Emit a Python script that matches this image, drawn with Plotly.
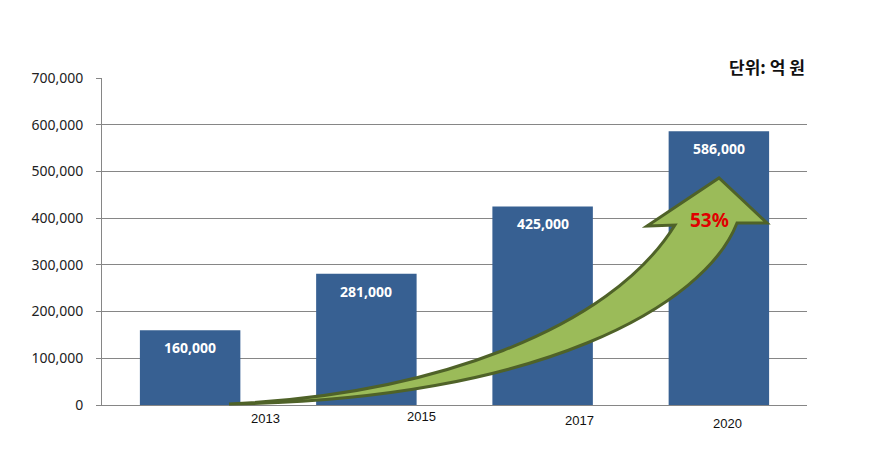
import plotly.graph_objects as go

# ---- data ----
years = ["2013", "2015", "2017", "2020"]
values = [160000, 281000, 425000, 586000]
value_labels = ["160,000", "281,000", "425,000", "586,000"]
y_ticks = [0, 100000, 200000, 300000, 400000, 500000, 600000, 700000]
y_tick_labels = ["0", "100,000", "200,000", "300,000", "400,000", "500,000", "600,000", "700,000"]
unit_label = "단위: 억 원"
growth_label = "53%"

# ---- layout constants (pixels, in the screenshot frame) ----
W, H = 888, 472
OFF = 8  # page body margin of the html page
PL, PR, PT, PB = 102, 807, 78, 405  # plot area edges
year_offsets = [0.43, 0.31, 0.21, 0.05]
year_drops = [13, 11, 15, 18]

def px(x):
    return (x - PL) / (PR - PL)

def py(y):
    return (PB - y) / (PB - PT)

xs = list(range(len(years)))

fig = go.Figure()
fig.add_trace(go.Bar(
    x=xs, y=values, marker=dict(color="#376092", line=dict(width=0)),
    width=0.57, hoverinfo="skip", showlegend=False,
))

annotations = []
for i, (v, t) in enumerate(zip(values, value_labels)):
    annotations.append(dict(
        x=i, y=v, xref="x", yref="y", text=t, showarrow=False,
        yanchor="top", yshift=-6,
        font=dict(family="Noto Sans, Liberation Sans, sans-serif", size=14, color="white", weight="bold"),
    ))
for i, (yr, off, drop) in enumerate(zip(years, year_offsets, year_drops)):
    annotations.append(dict(
        x=i + off, y=0, xref="x", yref="y", text=yr, showarrow=False,
        yanchor="middle", yshift=-drop,
        font=dict(family="Liberation Sans Narrow, Liberation Sans, sans-serif", size=13, color="#111"),
    ))
annotations.append(dict(
    x=1, y=py(67), xref="paper", yref="paper", text=unit_label, showarrow=False,
    xanchor="right", yanchor="middle",
    font=dict(family="Noto Sans CJK KR, sans-serif", size=17, color="#111", weight="bold"),
))
annotations.append(dict(
    x=px(709), y=py(220), xref="paper", yref="paper", text=growth_label, showarrow=False,
    xanchor="center", yanchor="middle",
    font=dict(family="Noto Sans, Liberation Sans, sans-serif", size=19, color="#E00000", weight="bold"),
))

def P(x, y):
    return f"{px(x):.5f},{py(y):.5f}"

path = (
    f"M {P(229,404)} "
    f"C {P(430,395)} {P(610,330)} {P(675,225)} "
    f"L {P(647,226)} L {P(719,178)} L {P(767,223)} L {P(737,223)} "
    f"C {P(705,305)} {P(540,400)} {P(229,404)} Z"
)
shapes = [dict(
    type="path", path=path, xref="paper", yref="paper",
    fillcolor="#9BBB59", line=dict(color="#4F6228", width=3), layer="above",
)]

fig.update_layout(
    width=W, height=H,
    margin=dict(l=PL - OFF, r=W - PR + OFF, t=PT - OFF, b=H - PB + OFF, pad=0),
    paper_bgcolor="white", plot_bgcolor="white",
    annotations=annotations, shapes=shapes,
    xaxis=dict(
        range=[-0.5, len(years) - 0.5], showticklabels=False, showgrid=False,
        showline=True, linecolor="#868686", linewidth=1, zeroline=False, ticks="",
        fixedrange=True,
    ),
    yaxis=dict(
        range=[0, 700000], tickvals=y_ticks, ticktext=y_tick_labels,
        showgrid=True, gridcolor="#868686", gridwidth=1,
        showline=True, linecolor="#868686", linewidth=1,
        ticks="outside", ticklen=5, tickcolor="#868686",
        zeroline=False, ticklabelstandoff=10,
        tickfont=dict(family="Noto Sans, Liberation Sans, sans-serif", size=14, color="#222"),
        fixedrange=True,
    ),
)

fig.write_html("out.html")
